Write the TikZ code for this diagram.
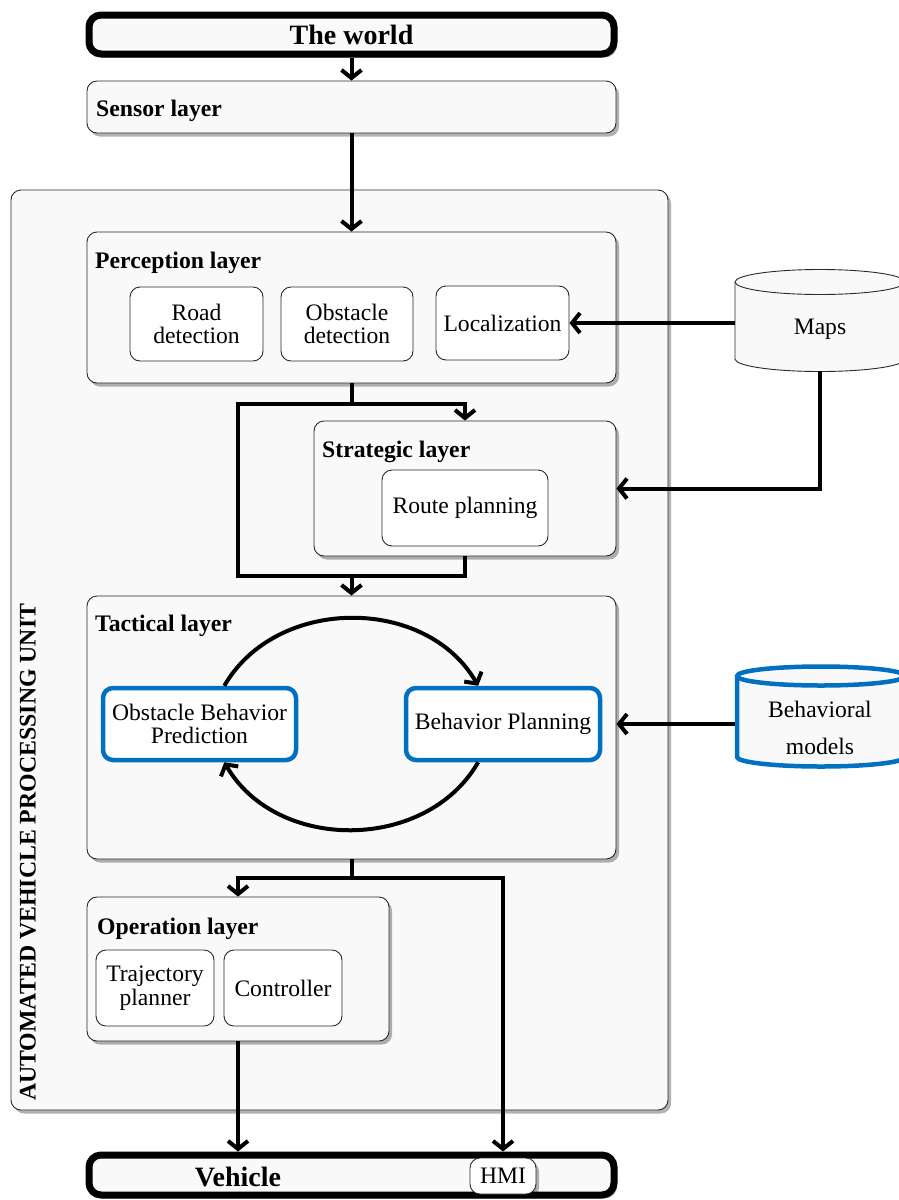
\documentclass[tikz,border=0pt]{standalone}
\usepackage{fontspec}
\setmainfont{Liberation Serif}
\usetikzlibrary{arrows.meta,shadows,calc}
\definecolor{boxfill}{HTML}{F9F9F9}
\definecolor{blueb}{HTML}{0070C0}
\definecolor{bord}{HTML}{2A2A2A}
\begin{document}
\begin{tikzpicture}[x=1pt,y=1pt,
  font=\fontsize{23.6}{23.5}\selectfont,
  shad/.style={drop shadow={shadow xshift=3pt,shadow yshift=-3.5pt,opacity=0.3,fill=black}},
  layer/.style={draw=bord, line width=0.9pt, fill=boxfill, rounded corners=10pt, inner sep=0pt, shad},
  inbox/.style={draw=bord, line width=0.9pt, fill=white, rounded corners=10pt, align=center, inner sep=0pt},
  bluebox/.style={draw=blueb, line width=4.5pt, fill=white, rounded corners=10pt, align=center, inner sep=0pt},
  bigbox/.style={draw=black, line width=7pt, fill=boxfill, rounded corners=12pt, inner sep=0pt, shad, font=\fontsize{28}{30}\selectfont\bfseries},
  head/.style={anchor=west, inner sep=0pt, font=\fontsize{23.7}{23.5}\selectfont\bfseries},
  ln/.style={line width=4pt},
  arr/.style={line width=4pt, -{Straight Barb[length=8pt,width=20pt]}},
]
\useasboundingbox (0,0) rectangle (899,-1200);

% container
\node[layer, minimum width=657, minimum height=920] (avpu) at (339.5,-650) {};
\node[rotate=90, anchor=west, inner sep=0pt, font=\fontsize{23.8}{23.5}\selectfont\bfseries] (avputxt) at (28,-1101) {AUTOMATED VEHICLE PROCESSING UNIT};

% world / sensor
\node[bigbox, minimum width=525, minimum height=39] (world) at (351.5,-34.5) {The world};
\node[layer, minimum width=529, minimum height=52] (sensor) at (351.5,-107) {};
\node[head] (sensorh) at (96,-111) {Sensor layer};

% perception
\node[layer, minimum width=529, minimum height=151] (perc) at (351.5,-307.5) {};
\node[head] (perch) at (95,-263) {Perception layer};
\node[inbox, minimum width=133, minimum height=74] (road) at (196.5,-324) {Road\\detection};
\node[inbox, minimum width=132, minimum height=74] (obst) at (347,-324) {Obstacle\\detection};
\node[inbox, minimum width=133, minimum height=74] (loc) at (502.5,-323) {Localization};

% strategic
\node[layer, minimum width=302, minimum height=135] (strat) at (465,-488.5) {};
\node[head] (strath) at (322,-452) {Strategic layer};
\node[inbox, minimum width=166, minimum height=76] (route) at (465,-508) {Route planning};

% tactical
\node[layer, minimum width=529, minimum height=263] (tact) at (351.5,-727.5) {};
\node[head] (tacth) at (95,-626) {Tactical layer};
\node[bluebox, minimum width=193, minimum height=72] (obp) at (199.5,-724) {Obstacle Behavior\\Prediction};
\node[bluebox, minimum width=194, minimum height=72] (bp) at (503,-724) {Behavior Planning};

% operation
\node[layer, minimum width=302, minimum height=144] (oper) at (238,-969) {};
\node[head] (operh) at (97,-929) {Operation layer};
\node[inbox, minimum width=118, minimum height=76] (traj) at (155,-988) {Trajectory\\planner};
\node[inbox, minimum width=118, minimum height=76] (ctrl) at (283,-988) {Controller};

% vehicle
\node[bigbox, minimum width=525, minimum height=40] (veh) at (351.5,-1175) {};
\node[inner sep=0pt, font=\fontsize{28}{30}\selectfont\bfseries] (vehtxt) at (238,-1177) {Vehicle};
\node[inbox, minimum width=66, minimum height=36, shad] (hmi) at (503,-1176) {HMI};

% Maps cylinder
\node[minimum width=170, minimum height=102, inner sep=0pt] (maps) at (820,-320) {};
\draw[draw=bord, line width=0.9pt, fill=boxfill]
  (735,-282) -- (735,-359) arc[start angle=180,end angle=360,x radius=85,y radius=12.5]
  -- (905,-282) arc[start angle=0,end angle=180,x radius=85,y radius=12.5] -- cycle;
\draw[draw=bord, line width=0.9pt] (735,-282) arc[start angle=180,end angle=360,x radius=85,y radius=12.5];
\node (mapstxt) at (820,-329) {Maps};

% Behavioral models cylinder
\node[minimum width=170, minimum height=100, inner sep=0pt] (beh) at (820,-716.5) {};
\draw[draw=blueb, line width=4.5pt, fill=boxfill]
  (737,-676) -- (737,-757) arc[start angle=180,end angle=360,x radius=84,y radius=9.5]
  -- (905,-676) arc[start angle=0,end angle=180,x radius=84,y radius=9.5] -- cycle;
\draw[draw=blueb, line width=4.5pt] (737,-676) arc[start angle=180,end angle=360,x radius=84,y radius=9.5];
\node[align=center, font=\fontsize{23.6}{37}\selectfont] (behtxt) at (820,-727.5) {Behavioral\\models};

% connectors
\draw[arr] (world.south) -- (sensor.north);
\draw[arr] (sensor.south) -- (perc.north);

\coordinate (j1) at (351.5,-404);
\coordinate (j2) at (238,-404);
\coordinate (j3) at (238,-576);
\coordinate (j4) at (351.5,-576);
\draw[arr] (perc.south) -- (j1) -| (strat.north);
\draw[ln] (j1) -- (j2) -- (j3) -| (strat.south);
\draw[arr] (j4) -- (tact.north);

\draw[arr] (loc.east -| maps.west) -- (loc.east);
\draw[arr] (maps.south) |- (strat.east);
\draw[arr] (bp.east -| beh.west) -- (bp.east -| tact.east);

\draw[arr] (obp.57) to[out=60,in=120,looseness=1.05] (bp.123);
\draw[arr] (bp.237) to[out=-120,in=-60,looseness=1.05] (obp.303);

\coordinate (k1) at (351.5,-878);
\draw[arr] (tact.south) -- (k1) -| (oper.north);
\draw[arr] (k1) -| (hmi.north |- veh.north);
\draw[arr] (oper.south) -- (oper.south |- veh.north);
\end{tikzpicture}
\end{document}
